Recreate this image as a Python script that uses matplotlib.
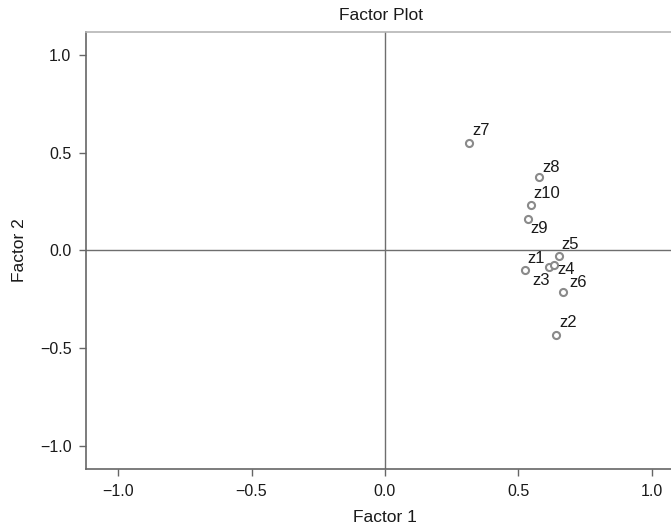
import matplotlib
matplotlib.use("Agg")
import matplotlib.pyplot as plt

plt.rcParams['font.family'] = ['Liberation Sans', 'DejaVu Sans']

labels = ['z1', 'z2', 'z3', 'z4', 'z5', 'z6', 'z7', 'z8', 'z9', 'z10']
factor1 = [0.524, 0.639, 0.615, 0.632, 0.652, 0.667, 0.316, 0.576, 0.536, 0.546]
factor2 = [-0.100, -0.434, -0.083, -0.073, -0.031, -0.215, 0.550, 0.377, 0.162, 0.234]
# label placement in pixels: (dx to text left edge, dy to text centre, downward positive)
label_offsets = {
    'z1': (2.4, -11.4), 'z2': (3.7, -12.3), 'z3': (-17.0, 14.4), 'z4': (3.4, 5.0),
    'z5': (2.0, -12.0), 'z6': (6.3, -9.7), 'z7': (3.3, -12.3), 'z8': (4.0, -9.3),
    'z9': (2.3, 10.0), 'z10': (2.4, -11.0),
}
xticks = [-1.0, -0.5, 0.0, 0.5, 1.0]
yticks = [-1.0, -0.5, 0.0, 0.5, 1.0]

W, H = 671, 527
fig = plt.figure(figsize=(W / 100, H / 100), dpi=100)
left, right, top, bottom = 86, 684, 31.7, 469
ax = fig.add_axes([left / W, 1 - bottom / H, (right - left) / W, (bottom - top) / H])
ax.set_xlim(-1.12, 1.12)
ax.set_ylim(-1.12, 1.12)

line_col = '#6e6e6e'
ax.axhline(0, color=line_col, lw=1.0, zorder=1)
ax.axvline(0, color=line_col, lw=1.0, zorder=1)

ax.scatter(factor1, factor2, s=26, facecolors='white', edgecolors='#8a8a8a',
           linewidths=1.5, zorder=3)
for lab, x, y in zip(labels, factor1, factor2):
    dx, dy = label_offsets[lab]
    ax.annotate(lab, (x, y), xytext=(dx * 0.72, -dy * 0.72), textcoords='offset points',
                fontsize=12, color='#1a1a1a', ha='left', va='center')

for s in ['left', 'bottom']:
    ax.spines[s].set_color('#666666')
    ax.spines[s].set_linewidth(1.2)
ax.spines['top'].set_color('#b5b5b5')
ax.spines['top'].set_linewidth(1.2)
ax.spines['right'].set_visible(False)

ax.set_xticks(xticks)
ax.set_yticks(yticks)
ax.set_xticklabels([f"{t:.1f}".replace('-', '\u2212') for t in xticks])
ax.set_yticklabels([f"{t:.1f}".replace('-', '\u2212') for t in yticks])
ax.tick_params(direction='out', length=5, width=1, color='#666666',
               labelsize=11.5, labelcolor='#1a1a1a', pad=5.5)

ax.set_xlabel('Factor 1', fontsize=12.5, color='#1a1a1a', labelpad=8)
ax.set_ylabel('Factor 2', fontsize=12.5, color='#1a1a1a', labelpad=9)
fig.text(381 / W, 1 - 15 / H, 'Factor Plot', ha='center', va='center', fontsize=12.5, color='#1a1a1a')

fig.savefig('out.png', dpi=100)
